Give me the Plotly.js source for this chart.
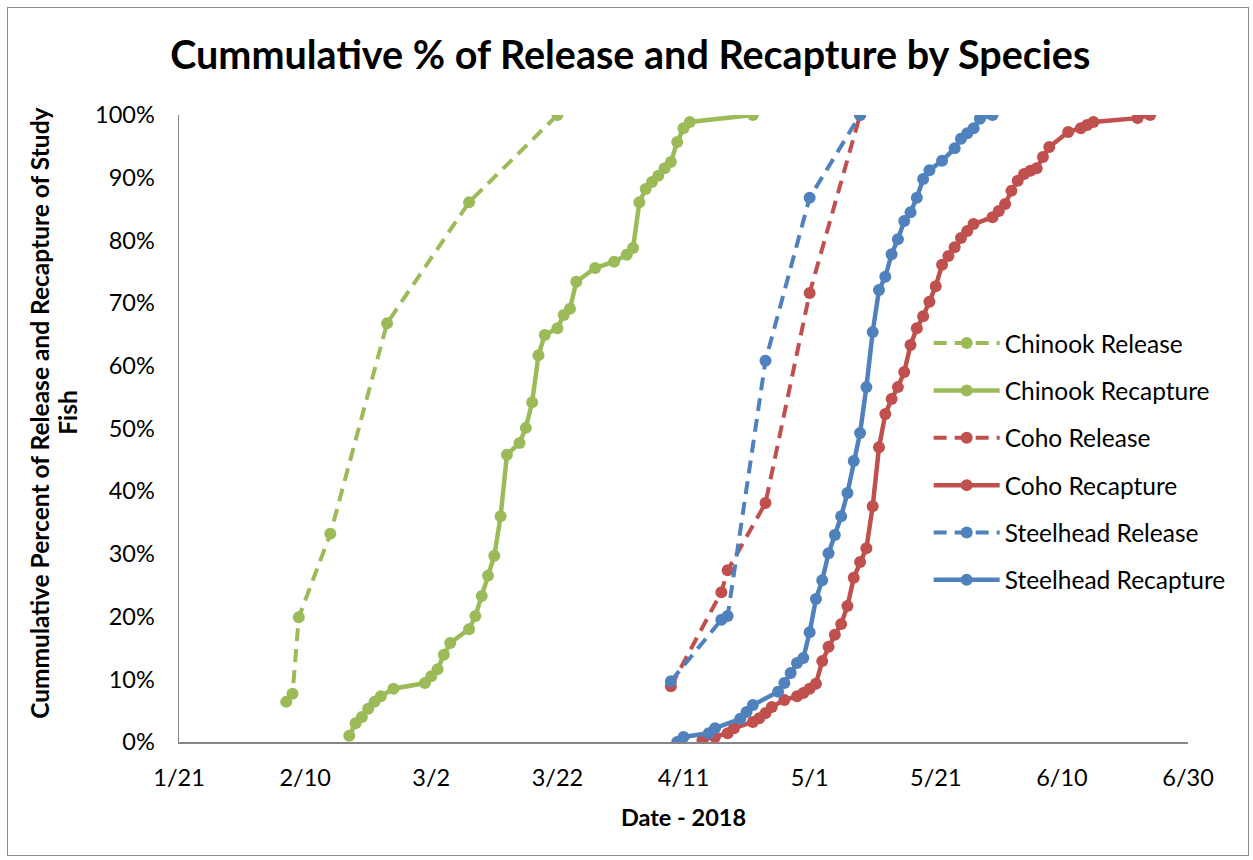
<!DOCTYPE html>
<html>
<head>
<meta charset="utf-8">
<script src="https://cdn.plot.ly/plotly-3.0.1.min.js"></script>
<style>
  html, body { margin: 0; padding: 0; background: #fff; }
  #wrap { position: relative; width: 1253px; height: 860px; }
  #chart { width: 1253px; height: 860px; }
  #frame { position: absolute; left: 7px; top: 7px; width: 1240px; height: 847px;
           border: 1px solid #8c8c8c; pointer-events: none; }
</style>
</head>
<body>
<div id="wrap">
  <div id="chart"></div>
  <div id="frame"></div>
</div>
<script>
// Cumulative percent of study fish, by date (2018)
const chinookReleaseDates = ['2018-02-07','2018-02-08','2018-02-09','2018-02-14','2018-02-23','2018-03-08','2018-03-22'];
const chinookReleasePct   = [6.4, 7.7, 19.9, 33.2, 66.8, 86.1, 100];

const chinookRecapDates = ['2018-02-17','2018-02-18','2018-02-19','2018-02-20','2018-02-21','2018-02-22','2018-02-24',
  '2018-03-01','2018-03-02','2018-03-03','2018-03-04','2018-03-05','2018-03-08','2018-03-09','2018-03-10','2018-03-11',
  '2018-03-12','2018-03-13','2018-03-14','2018-03-16','2018-03-17','2018-03-18','2018-03-19','2018-03-20','2018-03-22',
  '2018-03-23','2018-03-24','2018-03-25','2018-03-28','2018-03-31','2018-04-02','2018-04-03','2018-04-04','2018-04-05',
  '2018-04-06','2018-04-07','2018-04-08','2018-04-09','2018-04-10','2018-04-11','2018-04-12','2018-04-22'];
const chinookRecapPct = [1.0, 3.0, 4.0, 5.3, 6.4, 7.3, 8.5,
  9.4, 10.5, 11.6, 13.9, 15.8, 18.0, 20.1, 23.3, 26.5,
  29.7, 36.0, 45.8, 47.7, 50.1, 54.2, 61.7, 64.9, 66.0,
  68.1, 69.1, 73.4, 75.6, 76.6, 77.7, 78.8, 86.1, 88.2,
  89.3, 90.3, 91.5, 92.5, 95.7, 97.9, 98.9, 100];

const cohoReleaseDates = ['2018-04-09','2018-04-17','2018-04-18','2018-04-24','2018-05-01','2018-05-09'];
const cohoReleasePct   = [8.9, 23.9, 27.4, 38.1, 71.6, 100];

const cohoRecapDates = ['2018-04-14','2018-04-16','2018-04-18','2018-04-19','2018-04-22','2018-04-23','2018-04-24',
  '2018-04-25','2018-04-27','2018-04-29','2018-04-30','2018-05-01','2018-05-02','2018-05-03','2018-05-04','2018-05-05',
  '2018-05-06','2018-05-07','2018-05-08','2018-05-09','2018-05-10','2018-05-11','2018-05-12','2018-05-13','2018-05-14',
  '2018-05-15','2018-05-16','2018-05-17','2018-05-18','2018-05-19','2018-05-20','2018-05-21','2018-05-22','2018-05-23',
  '2018-05-24','2018-05-25','2018-05-26','2018-05-27','2018-05-30','2018-05-31','2018-06-01','2018-06-02','2018-06-03',
  '2018-06-04','2018-06-05','2018-06-06','2018-06-07','2018-06-08','2018-06-11','2018-06-13','2018-06-14','2018-06-15',
  '2018-06-22','2018-06-24'];
const cohoRecapPct = [0.3, 0.8, 1.4, 2.2, 3.2, 3.8, 4.6,
  5.6, 6.7, 7.3, 7.8, 8.5, 9.3, 12.9, 15.2, 17.1,
  18.8, 21.7, 26.2, 28.7, 30.9, 37.6, 47.0, 52.3, 54.7,
  56.6, 59.0, 63.3, 66.0, 67.9, 70.2, 72.7, 76.1, 77.5,
  78.9, 80.4, 81.5, 82.6, 83.7, 84.7, 85.8, 87.9, 89.5,
  90.6, 91.1, 91.5, 93.3, 94.9, 97.3, 97.9, 98.4, 98.9,
  99.5, 100];

const steelheadReleaseDates = ['2018-04-09','2018-04-17','2018-04-18','2018-04-24','2018-05-01','2018-05-09'];
const steelheadReleasePct   = [9.7, 19.5, 20.1, 60.8, 86.8, 100];

const steelheadRecapDates = ['2018-04-10','2018-04-11','2018-04-15','2018-04-16','2018-04-20','2018-04-21','2018-04-22',
  '2018-04-26','2018-04-27','2018-04-28','2018-04-29','2018-04-30','2018-05-01','2018-05-02','2018-05-03','2018-05-04',
  '2018-05-05','2018-05-06','2018-05-07','2018-05-08','2018-05-09','2018-05-10','2018-05-11','2018-05-12','2018-05-13',
  '2018-05-14','2018-05-15','2018-05-16','2018-05-17','2018-05-18','2018-05-19','2018-05-20','2018-05-22','2018-05-24',
  '2018-05-25','2018-05-26','2018-05-27','2018-05-28','2018-05-30'];
const steelheadRecapPct = [0.0, 0.8, 1.4, 2.2, 3.7, 4.8, 5.9,
  8.0, 9.4, 11.0, 12.6, 13.4, 17.5, 22.8, 25.8, 30.1,
  33.0, 36.0, 39.7, 44.8, 49.3, 56.6, 65.4, 72.1, 74.2,
  77.8, 80.2, 83.1, 84.5, 86.8, 89.8, 91.2, 92.7, 94.7,
  96.2, 97.1, 97.9, 99.4, 100];

// y-axis title, split over two rotated lines
const yTitleLines = ['Cummulative Percent of Release and Recapture of Study', 'Fish'];

const GREEN = '#9BBB59', RED = '#C0504D', BLUE = '#4F81BD';
const FONT = 'Lato, "Open Sans", "DejaVu Sans", sans-serif';

function series(name, x, y, color, dashed) {
  return {
    type: 'scatter', mode: 'lines+markers', name: name, legendgroup: name,
    x: x, y: y,
    line: { color: color, width: dashed ? 4 : 4.5, dash: dashed ? '13px,8px' : 'solid' },
    marker: { color: color, size: 12, symbol: 'circle' }
  };
}

const traces = [
  series('Chinook Release', chinookReleaseDates, chinookReleasePct, GREEN, true),
  series('Chinook Recapture', chinookRecapDates, chinookRecapPct, GREEN, false),
  series('Coho Release', cohoReleaseDates, cohoReleasePct, RED, true),
  series('Coho Recapture', cohoRecapDates, cohoRecapPct, RED, false),
  series('Steelhead Release', steelheadReleaseDates, steelheadReleasePct, BLUE, true),
  series('Steelhead Recapture', steelheadRecapDates, steelheadRecapPct, BLUE, false)
];

const yTitleX = [-0.1378, -0.1100];
const annotations = yTitleLines.map((t, i) => ({
  xref: 'paper', yref: 'paper', x: yTitleX[i], y: 0.525,
  xanchor: 'center', yanchor: 'middle', textangle: -90, showarrow: false,
  text: '<b>' + t + '</b>',
  font: { family: FONT, size: 24.5, color: '#000' }
}));

const layout = {
  width: 1253, height: 860,
  margin: { l: 179, r: 65, t: 115, b: 118 },
  paper_bgcolor: '#fff', plot_bgcolor: '#fff',
  font: { family: FONT, color: '#000', size: 24 },
  title: {
    text: '<b>Cummulative % of Release and Recapture by Species</b>',
    font: { family: FONT, size: 39.5, color: '#000' },
    x: 0.503, xanchor: 'center', y: 0.936, yanchor: 'middle'
  },
  xaxis: {
    type: 'date',
    range: ['2018-01-21', '2018-06-30'],
    tick0: '2018-01-21', dtick: 20 * 86400000,
    tickformat: '%-m/%-d',
    showgrid: false, zeroline: false,
    showline: true, linecolor: '#868686', linewidth: 1.5,
    ticks: '', ticklabelstandoff: 14,
    tickfont: { family: FONT, size: 23.5, color: '#000' },
    title: { text: '<b>Date - 2018</b>', font: { family: FONT, size: 23.5, color: '#000' }, standoff: 20 }
  },
  yaxis: {
    range: [0, 100], dtick: 10, ticksuffix: '%',
    showgrid: false, zeroline: false,
    showline: true, linecolor: '#868686', linewidth: 1.5,
    ticks: '', ticklabelstandoff: 18,
    tickfont: { family: FONT, size: 23.5, color: '#000' }
  },
  annotations: annotations,
  showlegend: true,
  legend: {
    x: 0.743, xanchor: 'left', y: 0.672, yanchor: 'top',
    bgcolor: 'rgba(0,0,0,0)',
    font: { family: FONT, size: 24.5, color: '#000' },
    traceorder: 'grouped', tracegroupgap: 12.5,
    itemwidth: 66
  }
};

Plotly.newPlot('chart', traces, layout, { displayModeBar: false, staticPlot: true });
</script>
</body>
</html>
